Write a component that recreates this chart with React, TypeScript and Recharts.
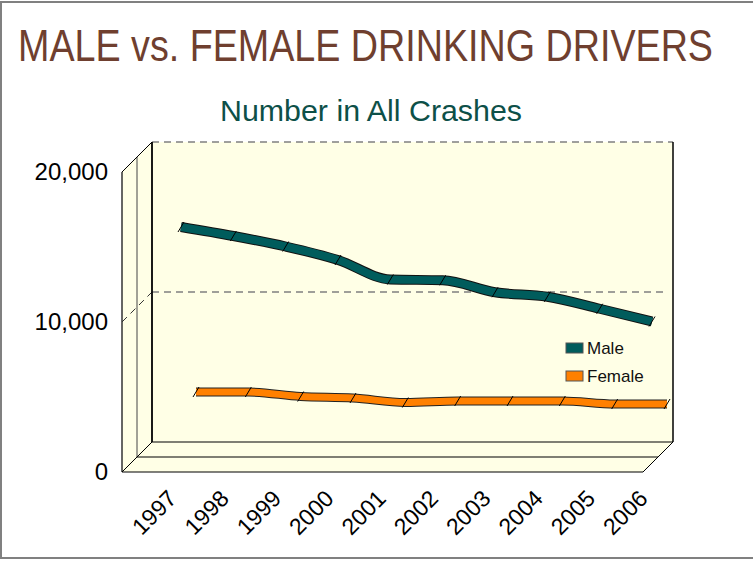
import React from "react"
import { LineChart, Line, XAxis, YAxis, Customized } from "recharts"

// values
const years = ["1997", "1998", "1999", "2000", "2001", "2002", "2003", "2004", "2005", "2006"]
const maleCounts = [15800, 15200, 14500, 13600, 12300, 12250, 11450, 11150, 10350, 9500]
const femaleCounts = [3800, 3800, 3500, 3400, 3100, 3200, 3200, 3200, 3000, 3000]
const yTicks = [0, 10000, 20000]

const data = years.map((year, i) => ({ year, male: maleCounts[i], female: femaleCounts[i] }))

const W = 753
const H = 561
// front plane of the 3d box and its depth
const FRONT = { left: 122, right: 643, top: 172, bottom: 472 }
const DEPTH = 30
const PLOT = { left: 122, right: 669, top: 149, bottom: 472 }
const Y_AXIS_W = 100
const X_AXIS_H = 60

const colors = {
  title: "#6f3f2f",
  subtitle: "#0d5048",
  wall: "#ffffe6",
  male: "#005c5c",
  female: "#ff8000",
  grid: "#808080",
}

const font = "'Liberation Sans', Arial, sans-serif"

function Box3D() {
  const { left, right, top, bottom } = FRONT
  const d = DEPTH
  const h = d / 2
  const gridY = (top + bottom) / 2
  return (
    <g>
      <rect x={1} y={2} width={W + 10} height={H - 5} fill="#fff" stroke="#808080" strokeWidth={2} />
      {/* back wall */}
      <rect x={left + d} y={top - d} width={right - left} height={bottom - top} fill={colors.wall} />
      {/* left wall */}
      <polygon
        points={`${left},${top} ${left + d},${top - d} ${left + d},${bottom - d} ${left},${bottom}`}
        fill={colors.wall}
      />
      {/* floor */}
      <polygon
        points={`${left},${bottom} ${right},${bottom} ${right + d},${bottom - d} ${left + d},${bottom - d}`}
        fill={colors.wall}
      />
      {/* gridlines */}
      <line x1={left + d} y1={top - d} x2={right + d} y2={top - d} stroke={colors.grid} strokeWidth={1.5} strokeDasharray="7 5" />
      <line x1={left + d} y1={gridY - d} x2={right + d - 5} y2={gridY - d} stroke={colors.grid} strokeWidth={1.5} strokeDasharray="7 5" />
      <line x1={left} y1={gridY} x2={left + d} y2={gridY - d} stroke="#333" strokeWidth={1} strokeDasharray="7 5" />
      {/* edges */}
      <g stroke="#000" fill="none">
        <line x1={left} y1={top} x2={left} y2={bottom} strokeWidth={1.5} stroke="#333" />
        <line x1={left + h} y1={top - h} x2={left + h} y2={bottom - h} strokeWidth={1} stroke="#444" />
        <line x1={left + d} y1={top - d} x2={left + d} y2={bottom - d} strokeWidth={1.8} />
        <line x1={right + d} y1={top - d} x2={right + d} y2={bottom - d} strokeWidth={1.5} />
        <line x1={left} y1={top} x2={left + d} y2={top - d} strokeWidth={1} />
        <line x1={left} y1={bottom} x2={left + d} y2={bottom - d} strokeWidth={1} />
        <line x1={right} y1={bottom} x2={right + d} y2={bottom - d} strokeWidth={1} />
        <line x1={left} y1={bottom} x2={right} y2={bottom} strokeWidth={1.2} />
        <line x1={left + h} y1={bottom - h} x2={right + h} y2={bottom - h} strokeWidth={1.2} />
        <line x1={left + d} y1={bottom - d} x2={right + d} y2={bottom - d} strokeWidth={1.2} />
      </g>
      {/* titles */}
      <text x={18} y={61} fontFamily={font} fontSize={44} fill={colors.title} textLength={695} lengthAdjust="spacingAndGlyphs">
        MALE vs. FEMALE DRINKING DRIVERS
      </text>
      <text x={220} y={121} fontFamily={font} fontSize={30} fill={colors.subtitle} textLength={302} lengthAdjust="spacingAndGlyphs">
        Number in All Crashes
      </text>
    </g>
  )
}

function LegendBox() {
  const items = [
    { name: "Male", color: colors.male, y: 343 },
    { name: "Female", color: colors.female, y: 371 },
  ]
  return (
    <g>
      {items.map((it) => (
        <g key={it.name}>
          <rect x={566} y={it.y} width={17} height={10} fill={it.color} stroke="#555" strokeWidth={1} />
          <text x={587} y={it.y + 11} fontFamily={font} fontSize={17} fill="#111">
            {it.name}
          </text>
        </g>
      ))}
    </g>
  )
}

const YearTick = (props: any) => {
  const { x, y, payload } = props
  return (
    <text
      x={x}
      y={y}
      transform={`rotate(-45 ${x} ${y})`}
      textAnchor="end"
      fontFamily={font}
      fontSize={23}
      fill="#000"
    >
      {payload.value}
    </text>
  )
}

const CountTick = (props: any) => {
  const { x, y, payload } = props
  return (
    <text x={x} y={y} dy={8} textAnchor="end" fontFamily={font} fontSize={24} fill="#000">
      {Number(payload.value).toLocaleString("en-US")}
    </text>
  )
}

const divider = (p: any) => (
  <line
    key={`d-${p.index}`}
    x1={p.cx - 3}
    y1={p.cy + 5}
    x2={p.cx + 3}
    y2={p.cy - 5}
    stroke="#000"
    strokeWidth={1}
  />
)

export default function App() {
  return (
    <div style={{ position: "absolute", left: 0, top: 0, width: W, height: H, background: "#fff" }}>
      <LineChart
        width={W}
        height={H}
        data={data}
        margin={{
          top: PLOT.top,
          left: PLOT.left - Y_AXIS_W,
          right: W - PLOT.right,
          bottom: H - PLOT.bottom - X_AXIS_H,
        }}
      >
        <Customized component={Box3D} />
        <XAxis
          xAxisId="front"
          dataKey="year"
          orientation="bottom"
          height={X_AXIS_H}
          padding={{ left: 56, right: 20 }}
          axisLine={false}
          tickLine={false}
          tickSize={0}
          tickMargin={28}
          interval={0}
          tick={<YearTick />}
        />
        <XAxis xAxisId="m" dataKey="year" orientation="top" hide height={0} padding={{ left: 59, right: 17 }} />
        <XAxis xAxisId="f" dataKey="year" orientation="top" hide height={0} padding={{ left: 74, right: 2 }} />
        <YAxis
          yAxisId="front"
          orientation="left"
          type="number"
          width={Y_AXIS_W}
          domain={[0, 20000]}
          allowDataOverflow
          ticks={yTicks}
          interval={0}
          padding={{ top: 23, bottom: 0 }}
          axisLine={false}
          tickLine={false}
          tickSize={0}
          tickMargin={14}
          tick={<CountTick />}
        />
        <YAxis yAxisId="m" orientation="right" hide width={0} domain={[0, 20000]} padding={{ top: 15, bottom: 8 }} />
        <YAxis yAxisId="f" orientation="right" hide width={0} domain={[0, 20000]} padding={{ top: 0, bottom: 23 }} />
        {/* binds the front value axis to the data so its ticks get drawn; draws nothing */}
        <Line xAxisId="front" yAxisId="front" dataKey="male" stroke="none" dot={false} activeDot={false} legendType="none" isAnimationActive={false} />
        <Line xAxisId="f" yAxisId="f" dataKey="female" type="monotone" stroke="#222" strokeWidth={9} dot={false} activeDot={false} isAnimationActive={false} />
        <Line xAxisId="f" yAxisId="f" dataKey="female" type="monotone" stroke={colors.female} strokeWidth={7} dot={divider} activeDot={false} isAnimationActive={false} />
        <Line xAxisId="m" yAxisId="m" dataKey="male" type="monotone" stroke="#111" strokeWidth={10} dot={false} activeDot={false} isAnimationActive={false} />
        <Line xAxisId="m" yAxisId="m" dataKey="male" type="monotone" stroke={colors.male} strokeWidth={8} dot={divider} activeDot={false} isAnimationActive={false} />
        <Customized component={LegendBox} />
      </LineChart>
    </div>
  )
}
